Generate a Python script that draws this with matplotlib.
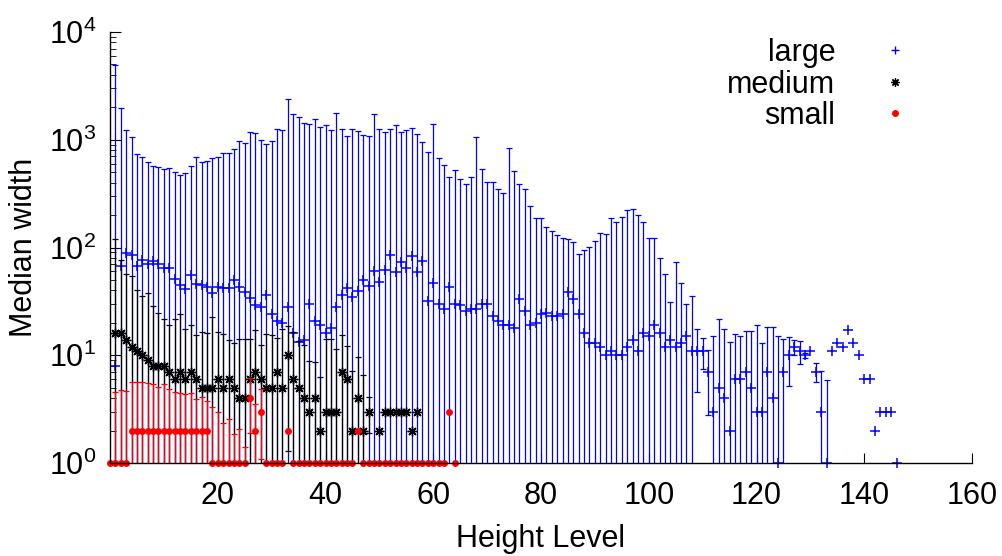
import numpy as np
import matplotlib
matplotlib.use('Agg')
import matplotlib.pyplot as plt
from matplotlib.lines import Line2D

plt.rcParams['font.family'] = ['Liberation Sans', 'DejaVu Sans']

# large: median and upper end of the error bar (median + std), x = 1..146
large_x = np.arange(1, 147)
large_med = [8, 68, 88, 86, 68, 76, 71, 75, 70, 65,
             64, 51, 45, 41, 56, 46, 45, 43, 38, 43,
             42, 42, 50, 43, 39, 34, 29, 28, 36, 24,
             21, 20, 28, 16, 13.4, 14, 30, 21, 19, 16,
             18, 28, 36, 42, 34.5, 39.5, 50, 44, 61, 48,
             62, 85, 59, 74, 64, 84, 59, 75, 32, 47,
             30, 27, 43, 30, 29, 26, 27, 27, 30, 30,
             23, 21, 19, 19, 18, 33.5, 26, 19, 20, 24,
             24.8, 23, 23, 24, 39, 33, 24, 16, 13, 13,
             12, 10, 11, 10, 10, 12, 14, 11, 16, 15,
             19, 16, 12, 14, 12, 13, 15, 11, 11, 11,
             7, 3, 5, 4, 2, 6, 6, 7, 5, 3,
             3, 7, 4, 1, 7, 10, 12, 11, 10, 11,
             7, 3, 1, 11, 13, 12, 17, 13, 10, 6,
             6, 2, 3, 3, 3, 1]
large_up = [4900, 1950, 1230, 1070, 733, 687, 622, 570, 562, 532,
            543, 499, 471, 488, 570, 687, 622, 636, 673, 687,
            758, 758, 820, 967, 940, 1188, 1164, 995, 913, 980,
            1267, 1231, 2372, 1721, 1615, 1441, 1400, 1548, 1304, 1370,
            1231, 1759, 1267, 1083, 1267, 1197, 1107, 1083, 1734, 1250,
            1180, 1250, 1370, 1172, 1231, 1294, 1123, 946, 769, 1400,
            673, 587, 454, 520, 430, 386, 448, 1068, 531, 403,
            403, 351, 323, 832, 513, 386, 351, 244, 189, 189,
            156, 141, 131, 123, 119, 112, 87, 95, 102, 116,
            135, 133, 187, 172, 193, 221, 228, 200, 174, 123,
            122, 80.5, 57.2, 31, 72.8, 46.5, 29.7, 35.7, 17.4, 14.6,
            11.2, 15.1, 21.6, 17.4, 13.3, 15.9, 15.2, 16.8, 16.9, 19.2,
            12.9, 18.3, 18.2, 15.1, 14.1, 14.8, 13.9, 13.7, 10.6, 11,
            8.4, 7.2, 5.9, 11, 13, 12, 17, 13, 10, 6,
            6, 2, 3, 3, 3, 1]

# medium (no value at 49)
medium_x = list(range(1, 49)) + list(range(50, 58))
medium_med = [16, 16, 14, 12, 11, 10, 9, 8, 8, 8,
              7, 6, 7, 6, 7, 6, 5, 5, 5, 6,
              5, 6, 5, 4, 4, 6, 7, 6, 5, 5,
              7, 5, 10, 6, 5, 4, 3, 4, 2, 3,
              3, 3, 7, 6, 2, 4, 2, 3,
              2, 3, 3, 3, 3, 3, 2, 3]
medium_up = [119, 76.6, 56.4, 54.4, 40.3, 35.5, 37.6, 28.7, 24.8, 21.9,
             19.1, 21.9, 24.3, 17.6, 19.1, 15.5, 16.3, 16, 22.6, 16.6,
             15.7, 13.9, 13.1, 14.1, 14.3, 14.1, 17.2, 12.4, 15.7, 15.3,
             14.4, 17.4, 18.7, 16.4, 13.5, 12.4, 8.8, 8.7, 6.3, 14.3,
             14.1, 11.4, 15.3, 12.2, 7.2, 9.6, 6.5, 4.1,
             2, 3, 3, 3, 3, 3, 2, 3]

# small, x = 0..64
small_x = np.arange(0, 65)
small_med = [1, 1, 1, 1] + [2] * 15 + [1] * 7 + [4, 2, 3] + [1] * 4 + [2] + \
            [1] * 12 + [2] + [1] * 16 + [3, 1]
small_up = [1, 4.6, 4.8, 4.7, 5.7, 5.7, 5.6, 5.5, 5.4, 5.1,
            5.4, 4.9, 4.6, 4.5, 4.4, 4.5, 3.9, 4.1, 3.76, 3.33,
            3.0, 2.33, 2.56, 1.85, 2.05, 1.42, 6.1, 3.5, 4.9] + small_med[29:]


def draw(ax, x, med, up, color, marker, ms, mew):
    x = np.asarray(x, float)
    med = np.asarray(med, float)
    up = np.asarray(up, float)
    hi = up - med
    lo = np.maximum(med - hi, 1e-3)   # negative lower ends run off the log axis
    m = hi > 0
    ax.errorbar(x[m], med[m], yerr=[med[m] - lo[m], hi[m]], fmt='none',
                ecolor=color, elinewidth=0.9, capsize=2.5, capthick=0.9)
    ax.plot(x, med, ls='none', marker=marker, color=color, ms=ms, mew=mew,
            clip_on=False)


fig = plt.figure(figsize=(10.02, 5.56), dpi=100)
ax = fig.add_axes([110 / 1002, 1 - 463 / 556, 862 / 1002, 431 / 556])

draw(ax, large_x, large_med, large_up, '#0000ff', '+', 7, 1.1)
draw(ax, medium_x, medium_med, medium_up, '#000000', (8, 2, 0), 7, 1.0)
draw(ax, small_x, small_med, small_up, '#ff0000', 'o', 5, 0)

ax.set_yscale('log')
ax.set_ylim(1, 1e4)
ax.set_xlim(0, 160)
ax.set_xticks(range(20, 161, 20))

for s in ['top', 'right']:
    ax.spines[s].set_visible(False)
for s in ['left', 'bottom']:
    ax.spines[s].set_linewidth(1.0)

ax.tick_params(axis='both', which='both', direction='in', labelsize=22)
ax.tick_params(axis='y', which='major', length=8, pad=10)
ax.tick_params(axis='y', which='minor', length=4)
ax.tick_params(axis='x', which='major', length=7, pad=13)

ax.set_xlabel('Height Level', fontsize=22, labelpad=9)
ax.set_ylabel('Median width', fontsize=22, labelpad=7)

handles = [Line2D([], [], ls='none', marker='+', color='#0000ff', ms=6, mew=1.0),
           Line2D([], [], ls='none', marker=(8, 2, 0), color='#000000', ms=6, mew=0.9),
           Line2D([], [], ls='none', marker='o', color='#ff0000', ms=5, mew=0)]
ax.legend(handles, ['large', 'medium', 'small'], loc='upper right',
          bbox_to_anchor=(0.9355, 0.986), frameon=False, markerfirst=False,
          fontsize=22, handlelength=1.4, handletextpad=1.25, labelspacing=0.05,
          borderpad=0, borderaxespad=0)

fig.savefig('out.png', dpi=100)
